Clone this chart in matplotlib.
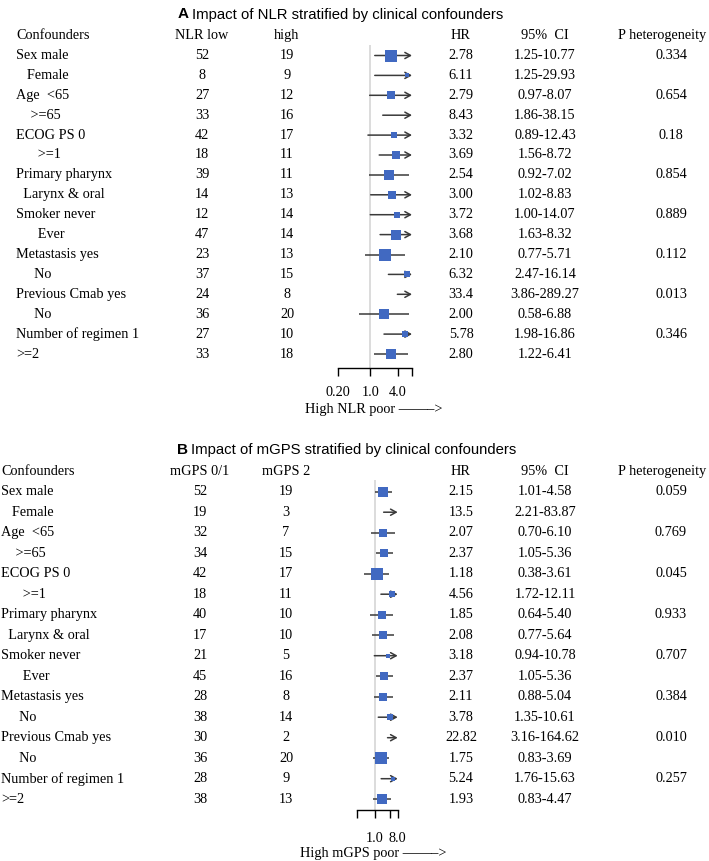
"""
Forest plots: NLR and mGPS stratified by clinical confounders
"""

import matplotlib
matplotlib.use("Agg")

import matplotlib.pyplot as plt
from matplotlib.transforms import blended_transform_factory

# ==========================================================
# DATA
# ==========================================================

row_labels = [
    "Sex male", "   Female",
    "Age  <65", "    >=65",
    "ECOG PS 0", "      >=1",
    "Primary pharynx", "  Larynx & oral",
    "Smoker never", "      Ever",
    "Metastasis yes", "     No",
    "Previous Cmab yes", "     No",
    "Number of regimen 1", ">=2",
]

# panel A : NLR
nlr_low = [52, 8, 27, 33, 42, 18, 39, 14, 12, 47, 23, 37, 24, 36, 27, 33]
nlr_high = [19, 9, 12, 16, 17, 11, 11, 13, 14, 14, 13, 15, 8, 20, 10, 18]
nlr_hr = ["2.78", "6.11", "2.79", "8.43", "3.32", "3.69", "2.54", "3.00",
          "3.72", "3.68", "2.10", "6.32", "33.4", "2.00", "5.78", "2.80"]
nlr_ci = ["1.25-10.77", "1.25-29.93", "0.97-8.07", "1.86-38.15",
          "0.89-12.43", "1.56-8.72", "0.92-7.02", "1.02-8.83",
          "1.00-14.07", "1.63-8.32", "0.77-5.71", "2.47-16.14",
          "3.86-289.27", "0.58-6.88", "1.98-16.86", "1.22-6.41"]
nlr_p = ["0.334", "", "0.654", "", "0.18", "", "0.854", "",
         "0.889", "", "0.112", "", "0.013", "", "0.346", ""]
nlr_weight = [10.7, 4.7, 8, 6, 6, 7.3, 8.7, 7.3,
              5.3, 8.7, 10.7, 5.3, 6, 8.7, 5.3, 10]

# panel B : mGPS
mgps_low = [52, 19, 32, 34, 42, 18, 40, 17, 21, 45, 28, 38, 30, 36, 28, 38]
mgps_high = [19, 3, 7, 15, 17, 11, 10, 10, 5, 16, 8, 14, 2, 20, 9, 13]
mgps_hr = ["2.15", "13.5", "2.07", "2.37", "1.18", "4.56", "1.85", "2.08",
           "3.18", "2.37", "2.11", "3.78", "22.82", "1.75", "5.24", "1.93"]
mgps_ci = ["1.01-4.58", "2.21-83.87", "0.70-6.10", "1.05-5.36",
           "0.38-3.61", "1.72-12.11", "0.64-5.40", "0.77-5.64",
           "0.94-10.78", "1.05-5.36", "0.88-5.04", "1.35-10.61",
           "3.16-164.62", "0.83-3.69", "1.76-15.63", "0.83-4.47"]
mgps_p = ["0.059", "", "0.769", "", "0.045", "", "0.933", "",
          "0.707", "", "0.384", "", "0.010", "", "0.257", ""]
mgps_weight = [9.3, 6, 7.3, 8, 10.7, 5.3, 8, 8,
               4.7, 8, 8, 5.3, 6, 10.7, 4.7, 8.7]

x_ticks = [0.2, 1, 4, 8]

# ==========================================================
# STYLE
# ==========================================================

W, H = 709, 861
SERIF = ["Liberation Serif", "DejaVu Serif"]
SANS = ["Liberation Sans", "DejaVu Sans"]
FS = 10.3
BOX = "#4169C1"
LINE = "#3a3a3a"
REF = "#d9d9d9"
X_MIN, X_MAX = 0.2, 8

# ==========================================================
# ONE PANEL
# ==========================================================

def draw_panel(fig, cfg, n_low, n_high, hr_text, ci_text, p_text, weight):

    y0, dy = cfg["row0"], cfg["dy"]
    top_px = y0 - dy
    bottom_row = (cfg["axis_y"] - y0) / dy

    ax = fig.add_axes([
        cfg["x_lo"] / W,
        1 - cfg["axis_y"] / H,
        (cfg["x_hi"] - cfg["x_lo"]) / W,
        (cfg["axis_y"] - top_px) / H,
    ])
    ax.set_xscale("log", base=2)
    ax.set_xlim(X_MIN, X_MAX)
    ax.set_ylim(bottom_row, -1)
    ax.patch.set_alpha(0)

    for side in ["top", "left", "right"]:
        ax.spines[side].set_visible(False)
    ax.spines["bottom"].set_bounds(X_MIN, X_MAX)
    ax.spines["bottom"].set_linewidth(1.0)
    ax.set_yticks([])
    ax.minorticks_off()
    ax.set_xticks(x_ticks)
    ax.set_xticklabels(cfg["tick_labels"], fontfamily=SERIF, fontsize=FS)
    ax.tick_params(axis="x", direction="out", length=6, width=1.0,
                   pad=cfg["pad"])

    ax.vlines(1, -0.55, bottom_row, color=REF, lw=1.3, zorder=0)

    hr = [float(v) for v in hr_text]
    lo = [float(v.split("-")[0]) for v in ci_text]
    hi = [float(v.split("-")[1]) for v in ci_text]

    for i in range(len(hr)):
        if hi[i] > X_MAX:
            ax.annotate(
                "", xy=(X_MAX, i), xytext=(lo[i], i),
                arrowprops=dict(arrowstyle="->,head_length=0.4,head_width=0.22",
                                color=LINE, lw=1.1, shrinkA=0, shrinkB=0),
                annotation_clip=False,
            )
        else:
            ax.hlines(i, lo[i], hi[i], color=LINE, lw=1.1, zorder=2)
        if hr[i] <= X_MAX:
            ax.plot(hr[i], i, marker="s", color=BOX, mew=0,
                    markersize=weight[i] * 0.75, zorder=3, clip_on=False)

    tr = blended_transform_factory(fig.transFigure, ax.transData)
    txt = dict(transform=tr, fontfamily=SERIF, fontsize=FS, va="center")

    header = ["Confounders", cfg["col1"], cfg["col2"], "HR", "95%  CI",
              "P heterogeneity"]
    ax.text(cfg["label_x"] / W, -1, header[0], ha="left", **txt)
    ax.text(cfg["c1"] / W, -1, header[1], ha="center", **txt)
    ax.text(cfg["c2"] / W, -1, header[2], ha="center", **txt)
    ax.text(461 / W, -1, header[3], ha="center", **txt)
    ax.text(545 / W, -1, header[4], ha="center", **txt)
    ax.text(662 / W, -1, header[5], ha="center", **txt)

    for i, label in enumerate(row_labels):
        ax.text(cfg["label_x"] / W, i, label, ha="left", **txt)
        ax.text(cfg["c1"] / W, i, str(n_low[i]), ha="center", **txt)
        ax.text(cfg["c2"] / W, i, str(n_high[i]), ha="center", **txt)
        ax.text(461 / W, i, hr_text[i], ha="center", **txt)
        ax.text(545 / W, i, ci_text[i], ha="center", **txt)
        ax.text(671 / W, i, p_text[i], ha="center", **txt)

    fig.text(cfg["title_x"] / W, 1 - cfg["title_y"] / H, cfg["letter"],
             fontfamily=SANS, fontweight="bold",
             fontsize=11, va="center", ha="left")
    fig.text((cfg["title_x"] + 14) / W, 1 - cfg["title_y"] / H, cfg["title"],
             fontfamily=SANS, fontsize=10.7, va="center", ha="left")

    fig.text(cfg["xlab_x"] / W, 1 - cfg["xlab_y"] / H, cfg["xlabel"],
             fontfamily=SERIF, fontsize=FS, va="center", ha="left")

    return ax

# ==========================================================
# MAIN
# ==========================================================

def main():

    fig = plt.figure(figsize=(W / 100, H / 100), dpi=100)

    panel_a = dict(
        letter="A", title="Impact of NLR stratified by clinical confounders",
        title_x=178, title_y=14.5,
        row0=55.5, dy=19.9, axis_y=367.7,
        x_lo=338, x_hi=412, pad=7.5,
        label_x=16, c1=202, c2=287,
        col1="NLR low", col2="high",
        tick_labels=["0.20", "1.0", "4.0", ""],
        xlabel="High NLR poor \u2014\u2014\u2013>", xlab_x=305, xlab_y=409,
    )

    panel_b = dict(
        letter="B", title="Impact of mGPS stratified by clinical confounders",
        title_x=177, title_y=450,
        row0=491.7, dy=20.5, axis_y=810,
        x_lo=357.4, x_hi=397.7, pad=9.5,
        label_x=1, c1=200, c2=286,
        col1="mGPS 0/1", col2="mGPS 2",
        tick_labels=["", "1.0", "", "8.0"],
        xlabel="High mGPS poor \u2014\u2014\u2013>", xlab_x=300, xlab_y=853,
    )

    draw_panel(fig, panel_a, nlr_low, nlr_high, nlr_hr, nlr_ci, nlr_p,
               nlr_weight)
    draw_panel(fig, panel_b, mgps_low, mgps_high, mgps_hr, mgps_ci, mgps_p,
               mgps_weight)

    fig.savefig("out.png", dpi=100)
    plt.close(fig)


if __name__ == "__main__":

    main()
